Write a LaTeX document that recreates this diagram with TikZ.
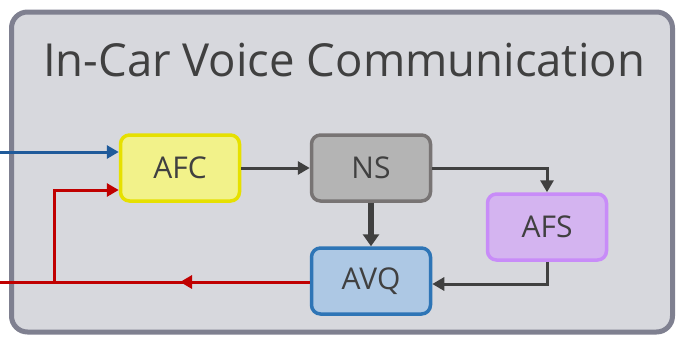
\documentclass[tikz,border=0pt]{standalone}
\usepackage{fontspec}
\setmainfont{Open Sans}
\usetikzlibrary{arrows.meta}
\definecolor{outerfill}{HTML}{D7D8DD}
\definecolor{outerdraw}{HTML}{7F8090}
\definecolor{txt}{HTML}{404040}
\definecolor{afcfill}{HTML}{F2F28A}
\definecolor{afcdraw}{HTML}{E6E000}
\definecolor{nsfill}{HTML}{B4B4B4}
\definecolor{nsdraw}{HTML}{787474}
\definecolor{afsfill}{HTML}{D4B4F0}
\definecolor{afsdraw}{HTML}{C88CF8}
\definecolor{avqfill}{HTML}{ADC8E4}
\definecolor{avqdraw}{HTML}{2E75B6}
\definecolor{bluel}{HTML}{1F5A9A}
\definecolor{redl}{HTML}{C00000}
\definecolor{darkl}{HTML}{404040}
\tikzset{
  block/.style={rounded corners=9pt, line width=3.5pt, minimum width=119pt, minimum height=66pt, inner sep=0pt, text=txt, font=\fontsize{30}{33}\selectfont},
  darrow/.style={draw=darkl, line width=3pt, -{Triangle[length=12pt,width=13pt]}},
  sig/.style={line width=3pt, -{Triangle[length=12pt,width=13pt]}}
}
\begin{document}
\begin{tikzpicture}[x=1pt,y=-1pt]
\useasboundingbox (0,0) rectangle (679,340);
\node[draw=outerdraw, fill=outerfill, line width=5pt, rounded corners=16pt, minimum width=661pt, minimum height=320pt, inner sep=0pt] (outer) at (342,172) {};
\node[text=txt, font=\fontsize{45.5}{50}\selectfont] (title) at (344,60) {In-Car Voice Communication};
\node[block, draw=afcdraw, fill=afcfill] (afc) at (180,168) {AFC};
\node[block, draw=nsdraw, fill=nsfill] (ns) at (371,168) {NS};
\node[block, draw=afsdraw, fill=afsfill] (afs) at (547,227) {AFS};
\node[block, draw=avqdraw, fill=avqfill] (avq) at (371,281) {AVQ};
\coordinate (bin) at (0,152);
\coordinate (rout) at (0,282);
\coordinate (rj) at (54,282);
\coordinate (rmid) at (180,282);
\draw[sig, draw=bluel, -{Triangle[length=12pt,width=13pt,fill=bluel]}] (bin) -- (afc.west |- bin);
\draw[line width=3pt, draw=redl] (avq.west |- rout) -- (rout);
\draw[sig, draw=redl, -{Triangle[length=12pt,width=13pt,fill=redl]}] (avq.west |- rout) -- (rmid);
\draw[sig, draw=redl, -{Triangle[length=12pt,width=13pt,fill=redl]}] (rj) -- (54,190) -- (afc.west |- 0,190);
\draw[darrow] (afc.east) -- (ns.west);
\draw[darrow] (ns.east) -| (afs.north);
\draw[draw=darkl, line width=6pt, -{Triangle[length=12pt,width=16pt]}] (ns.south) -- (avq.north);
\draw[darrow] (afs.south) |- (avq.east |- 0,284);
\end{tikzpicture}
\end{document}
